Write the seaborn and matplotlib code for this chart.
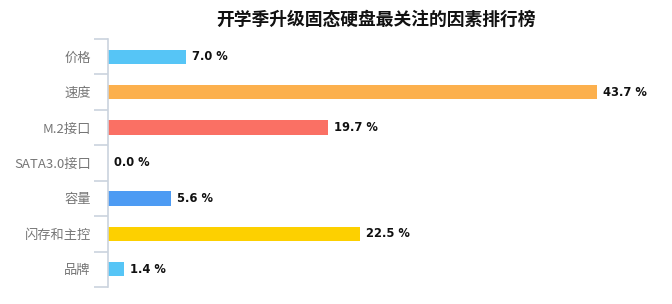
import matplotlib
matplotlib.use("Agg")
import matplotlib.pyplot as plt
import seaborn as sns
import pandas as pd
import numpy as np
from matplotlib.transforms import offset_copy

# Survey: factors people care about most when upgrading to an SSD (share, %)
categories = ["价格", "速度", "M.2接口", "SATA3.0接口", "容量", "闪存和主控", "品牌"]
values = [7.0, 43.7, 19.7, 0.0, 5.6, 22.5, 1.4]
colors = ["#56C5F6", "#FCB04D", "#FA7064", "#56C5F6", "#4D9BF3", "#FDD000", "#56C5F6"]
title = "开学季升级固态硬盘最关注的因素排行榜"

sns.set_theme(style="white")
plt.rcParams["font.family"] = ["Noto Sans CJK SC", "DejaVu Sans"]

df = pd.DataFrame({"factor": categories, "share": values})

fig = plt.figure(figsize=(6.72, 3.04), dpi=100)
W, H = 672, 304
ax = fig.add_axes([108 / W, 17 / H, (660 - 108) / W, (287 - 39) / H])

sns.barplot(data=df, x="share", y="factor", hue="factor", palette=colors,
            order=categories, hue_order=categories, legend=False,
            width=0.4, saturation=1, linewidth=0, ax=ax)

ax.set_xlim(0, 552 / 11.19)
ax.set_ylim(len(categories) - 0.5, -0.5)
ax.set_xlabel("")
ax.set_ylabel("")
ax.set_xticks([])

# value labels to the right of each bar
for i, v in enumerate(values):
    tr = offset_copy(ax.transData, fig=fig, x=6, y=0, units="dots")
    ax.text(v, i, f"{v:.1f} %", transform=tr, ha="left", va="center",
            fontsize=8.3, fontweight="bold", color="#111111",
            family=["DejaVu Sans"])

# category separators on the left axis
ax.set_yticks(np.arange(-0.5, len(categories)), minor=True)
ax.tick_params(axis="y", which="minor", left=True, length=10, width=1.2,
               color="#CBD3DE", direction="out")
ax.tick_params(axis="y", which="major", left=False, length=0, pad=12.5,
               labelsize=9.5, labelcolor="#767676")

for s in ["top", "right", "bottom"]:
    ax.spines[s].set_visible(False)
ax.spines["left"].set_color("#CBD3DE")
ax.spines["left"].set_linewidth(1.2)

fig.text(376 / W, 1 - 20 / H, title, ha="center", va="center",
         fontsize=12.8, fontweight="bold", color="#111111")

fig.savefig("out.png", dpi=100, facecolor="white")
